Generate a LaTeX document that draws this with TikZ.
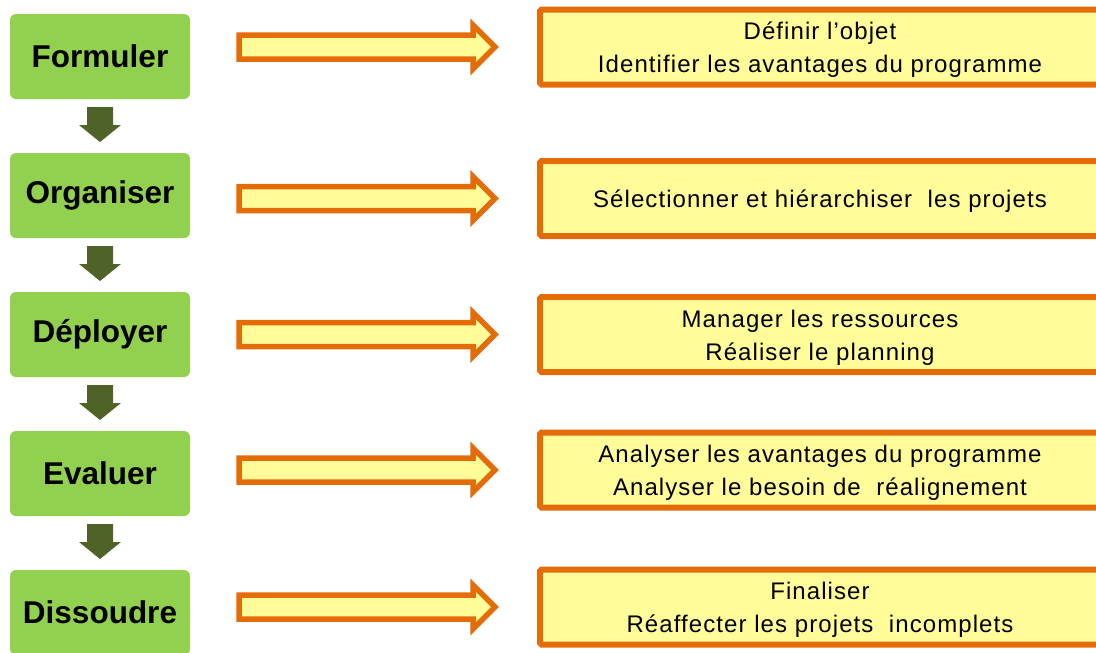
\documentclass[tikz,border=0pt]{standalone}
\usepackage{fontspec}
\setmainfont{Liberation Sans}
\usetikzlibrary{calc}
\definecolor{gfill}{HTML}{92D050}
\definecolor{darkolive}{HTML}{4F6228}
\definecolor{orng}{HTML}{E36C09}
\definecolor{ylw}{HTML}{FFFC99}
\begin{document}
\begin{tikzpicture}[x=1pt,y=-1pt,
  stepbox/.style={fill=gfill, rounded corners=6pt, minimum width=180pt, minimum height=85pt,
    inner sep=0pt, outer sep=0pt, font=\fontsize{31.5}{36}\selectfont\bfseries},
  taskbox/.style={draw=orng, fill=ylw, line width=6pt, rounded corners=1.5pt,
    minimum width=560pt, minimum height=75pt, inner sep=0pt, outer sep=0pt},
  tasktext/.style={inner sep=0pt, align=center,
    font=\fontsize{24}{33}\selectfont\addfontfeature{LetterSpace=4.5}},
  orangearrow/.style={draw=orng, fill=ylw, line width=5.5pt, line join=miter},
  downarrow/.style={fill=darkolive}]
\useasboundingbox (0,0) rectangle (1096,653);
\clip (0,0) rectangle (1096,653);

% green step boxes
\node[stepbox] (g1) at (100,56.5) {Formuler};
\node[stepbox] (g2) at (100,195.5) {Organiser};
\node[stepbox] (g3) at (100,334.5) {Déployer};
\node[stepbox] (g4) at (100,473.5) {Evaluer};
\node[stepbox] (g5) at (100,612.5) {Dissoudre};

% down block arrows between steps
\foreach \a in {g1,g2,g3,g4}{
  \coordinate (\a-s) at ($(\a.south)+(0,8)$);
  \fill[downarrow] (\a-s) ++(-13,0) -- ++(26,0) -- ++(0,18) -- ++(8,0)
    -- ++(-21,17) -- ++(-21,-17) -- ++(8,0) -- cycle;
}

% task boxes
\node[taskbox] (t1) at (820,47) {};
\node[taskbox] (t2) at (820,198.5) {};
\node[taskbox] (t3) at (820,334.5) {};
\node[taskbox] (t4) at (820,470) {};
\node[taskbox] (t5) at (820,607) {};

% task texts
\node[tasktext] (x1) at ($(t1)+(0,3)$) {Définir l’objet\\Identifier les avantages du programme};
\node[tasktext] (x2) at ($(t2)+(0,3)$) {Sélectionner et hiérarchiser\ \ les projets};
\node[tasktext] (x3) at ($(t3)+(0,3)$) {Manager les ressources\\Réaliser le planning};
\node[tasktext] (x4) at ($(t4)+(0,3)$) {Analyser les avantages du programme\\Analyser le besoin de\ \ réalignement};
\node[tasktext] (x5) at ($(t5)+(0,3)$) {Finaliser\\Réaffecter les projets\ \ incomplets};

% orange block arrows pointing at the task boxes
\foreach \t in {t1,t2,t3,t4,t5}{
  \coordinate (\t-tip) at ($(\t.west)+(-45,0)$);
  \draw[orangearrow] (\t-tip) -- ++(-22,-22) -- ++(0,10) -- ++(-234,0) -- ++(0,24)
    -- ++(234,0) -- ++(0,10) -- cycle;
}
\end{tikzpicture}
\end{document}
